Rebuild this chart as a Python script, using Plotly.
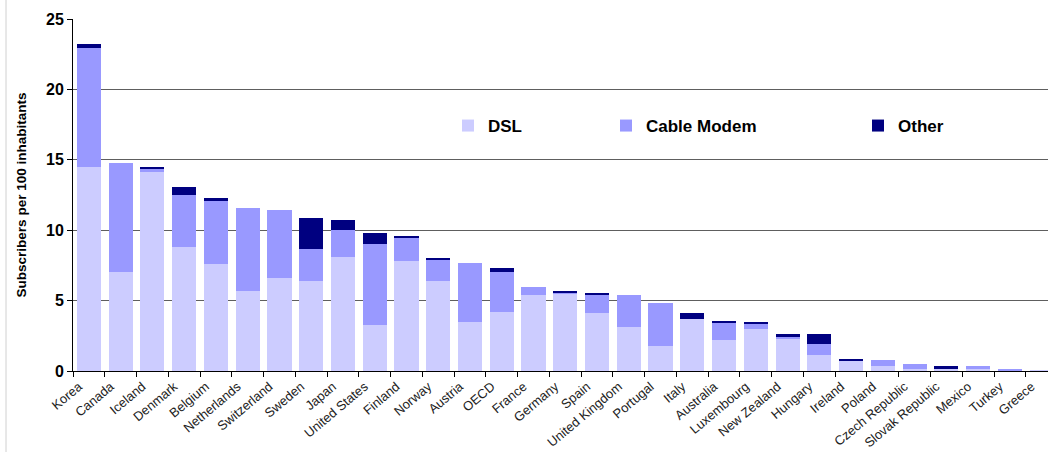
import plotly.graph_objects as go

countries = ["Korea", "Canada", "Iceland", "Denmark", "Belgium", "Netherlands", "Switzerland",
             "Sweden", "Japan", "United States", "Finland", "Norway", "Austria", "OECD",
             "France", "Germany", "Spain", "United Kingdom", "Portugal", "Italy", "Australia",
             "Luxembourg", "New Zealand", "Hungary", "Ireland", "Poland", "Czech Republic",
             "Slovak Republic", "Mexico", "Turkey", "Greece"]
dsl = [14.5, 7.0, 14.1, 8.8, 7.6, 5.7, 6.6, 6.4, 8.1, 3.3, 7.8, 6.4, 3.45, 4.2,
       5.37, 5.5, 4.1, 3.1, 1.77, 3.72, 2.2, 3.0, 2.3, 1.14, 0.75, 0.37, 0.17,
       0.13, 0.21, 0.06, 0.07]
cable = [8.45, 7.8, 0.25, 3.67, 4.5, 5.9, 4.8, 2.3, 1.9, 5.75, 1.65, 1.5, 4.2, 2.8,
         0.6, 0.07, 1.3, 2.3, 3.05, 0.0, 1.25, 0.35, 0.1, 0.78, 0.0, 0.41, 0.33,
         0.0, 0.14, 0.08, 0.0]
other = [0.3, 0.0, 0.15, 0.6, 0.2, 0.0, 0.0, 2.15, 0.7, 0.75, 0.08, 0.12, 0.0, 0.35,
         0.0, 0.07, 0.1, 0.0, 0.0, 0.42, 0.1, 0.12, 0.22, 0.7, 0.08, 0.0, 0.0,
         0.25, 0.0, 0.0, 0.0]
series = [("DSL", dsl, "#CCCCFF", "legend"),
          ("Cable Modem", cable, "#9999FF", "legend2"),
          ("Other", other, "#000080", "legend3")]
y_ticks = [0, 5, 10, 15, 20, 25]

FONT = "Liberation Sans, Arial, sans-serif"

fig = go.Figure()
for name, vals, color, lg in series:
    fig.add_trace(go.Bar(x=countries, y=vals, name=name, marker_color=color,
                         marker_line_width=0, legend=lg))

W, H = 1048, 452
L, R, T, B = 73, 0, 19, 81
pw = W - L - R
ph = H - T - B

def px(x):
    return (x - L) / pw

def py(y):
    return (H - B - y) / ph

legend_common = dict(orientation="h", yanchor="middle", xanchor="left",
                     bgcolor="rgba(0,0,0,0)", borderwidth=0,
                     font=dict(family=FONT, size=17, color="#000000", weight="bold"),
                     itemwidth=30)

fig.update_layout(
    width=W, height=H,
    margin=dict(l=L, r=R, t=T, b=B),
    paper_bgcolor="white", plot_bgcolor="white",
    barmode="stack", bargap=0.24,
    showlegend=True,
    legend=dict(x=px(448), y=py(126), **legend_common),
    legend2=dict(x=px(606), y=py(126), **legend_common),
    legend3=dict(x=px(858), y=py(126), **legend_common),
    xaxis=dict(range=[-0.5, 30.2], showline=True, linecolor="#000000", linewidth=1,
               ticks="outside", ticklen=5, tickcolor="#000000", tickson="boundaries",
               tickangle=-40, showgrid=False, ticklabelshift=-10, ticklabelstandoff=2,
               tickfont=dict(family=FONT, size=13, color="#222222")),
    yaxis=dict(range=[0, 25], tickvals=y_ticks, showline=True, linecolor="#000000",
               linewidth=1, ticks="outside", ticklen=5, tickcolor="#000000",
               showgrid=True, gridcolor="#5e5e5e", gridwidth=1, zeroline=False,
               tickfont=dict(family=FONT, size=16, color="#000000", weight="bold"),
               title=dict(text="Subscribers per 100 inhabitants", standoff=16,
                          font=dict(family=FONT, size=13.5, color="#000000", weight="bold"))),
    shapes=[dict(type="line", xref="paper", yref="paper", x0=px(6), x1=px(6),
                 y0=py(H), y1=py(0), line=dict(color="#d0d0d0", width=1))],
)

fig.write_html("out.html", post_script="document.body.style.margin='0';",
               config={"displayModeBar": False})
